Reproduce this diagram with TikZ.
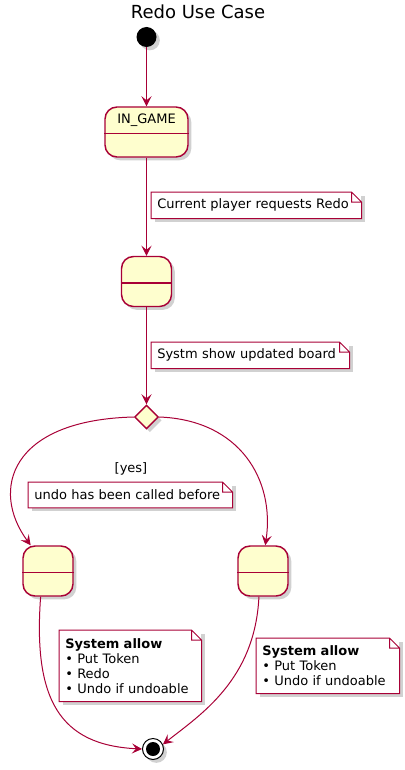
\documentclass[tikz,border=0pt]{standalone}
\usepackage{fontspec}
\setmainfont{DejaVu Sans}
\usetikzlibrary{arrows.meta,shapes.geometric,shadows,calc}
\definecolor{umlred}{HTML}{A80036}
\definecolor{umlfill}{HTML}{FEFECE}
\newcommand\notefont{\fontsize{9.75}{11.25}\selectfont}
\begin{document}
\begin{tikzpicture}[x=0.75pt, y=-0.75pt,
  shade/.style = {drop shadow={shadow xshift=2.5pt, shadow yshift=-2.5pt, opacity=0.3, fill=black!60}},
  state/.style = {draw=umlred, fill=umlfill, line width=1.1pt, rounded corners=9pt, minimum width=37.5pt, minimum height=37.5pt, inner sep=0pt, shade},
  note/.style = {fill=white, anchor=north west, inner xsep=4.5pt, inner ysep=0pt, align=left, font=\notefont, shade},
  line/.style = {draw=umlred, line width=0.75pt, -{Stealth[length=7.5pt, width=7.5pt, inset=3pt]}},
  txt/.style = {font=\notefont, inner sep=0pt}]
\useasboundingbox (0,0) rectangle (404,770);
\node[font=\fontsize{13.5}{16}\selectfont, inner sep=0pt] (title) at (198,12) {Redo Use Case};
% states
\node[circle, fill=black, minimum size=15pt, inner sep=0pt, shade] (start) at (146.5,37) {};
\node[state, minimum width=62.25pt] (ingame) at (146.5,132) {};
\node[txt] (ingamelbl) at (146.5,120.5) {IN\_GAME};
\node[state] (redo) at (146.5,281.5) {};
\node[diamond, draw=umlred, fill=umlfill, line width=1.1pt, minimum width=18pt, minimum height=18pt, inner sep=0pt, shade] (choice) at (146.5,417) {};
\node[state] (yesst) at (48,571) {};
\node[state] (nost) at (263,571) {};
\node[circle, draw=black, fill=white, line width=0.75pt, minimum size=15.75pt, inner sep=0pt, shade] (stop) at (153,749) {};
\node[circle, fill=black, minimum size=10.5pt, inner sep=0pt] (stopdot) at (153,749) {};
\foreach \s in {ingame,redo,yesst,nost}
  \draw[umlred, line width=1.1pt] ($(\s.north west)+(0,27)$) -- ($(\s.north east)+(0,27)$);
% notes
\node[note, minimum width=157.5pt, text width=148.5pt, minimum height=19.5pt] (note1) at (151,192) {Current player requests Redo};
\node[note, minimum width=148.5pt, text width=139.5pt, minimum height=19.5pt] (note2) at (151,342) {Systm show updated board};
\node[txt] (yes) at (131,469) {[yes]};
\node[note, minimum width=153pt, text width=144pt, minimum height=19pt] (note3) at (28,482) {undo has been called before};
\node[note, minimum width=106.5pt, text width=97.5pt, minimum height=53.25pt] (note4) at (59,630) {\textbf{System allow}\\• Put Token\\• Redo\\• Undo if undoable};
\node[note, minimum width=107.25pt, text width=98.25pt, minimum height=41.25pt] (note5) at (256,638) {\textbf{System allow}\\• Put Token\\• Undo if undoable};
\foreach \n in {note1,note2,note3,note4,note5}
  \draw[umlred, line width=0.75pt] (\n.south west) -- (\n.north west) -- ($(\n.north east)+(-10,0)$) -- ($(\n.north east)+(0,10)$) -- (\n.south east) -- cycle
    ($(\n.north east)+(-10,0)$) -- ($(\n.north east)+(-10,10)$) -- ($(\n.north east)+(0,10)$);
% transitions
\draw[line] (start) -- (ingame);
\draw[line] (ingame) -- (redo);
\draw[line] (redo) -- (choice);
\draw[line] (choice.west) .. controls (10,420) and (-10,490) .. (yesst.124);
\draw[line] (choice.east) .. controls (240,420) and (275,480) .. (nost.85);
\draw[line] (yesst.254) .. controls (33,700) and (60,745) .. (stop.west);
\draw[line] (nost.261) .. controls (255,680) and (200,715) .. (stop.25);
\end{tikzpicture}
\end{document}
